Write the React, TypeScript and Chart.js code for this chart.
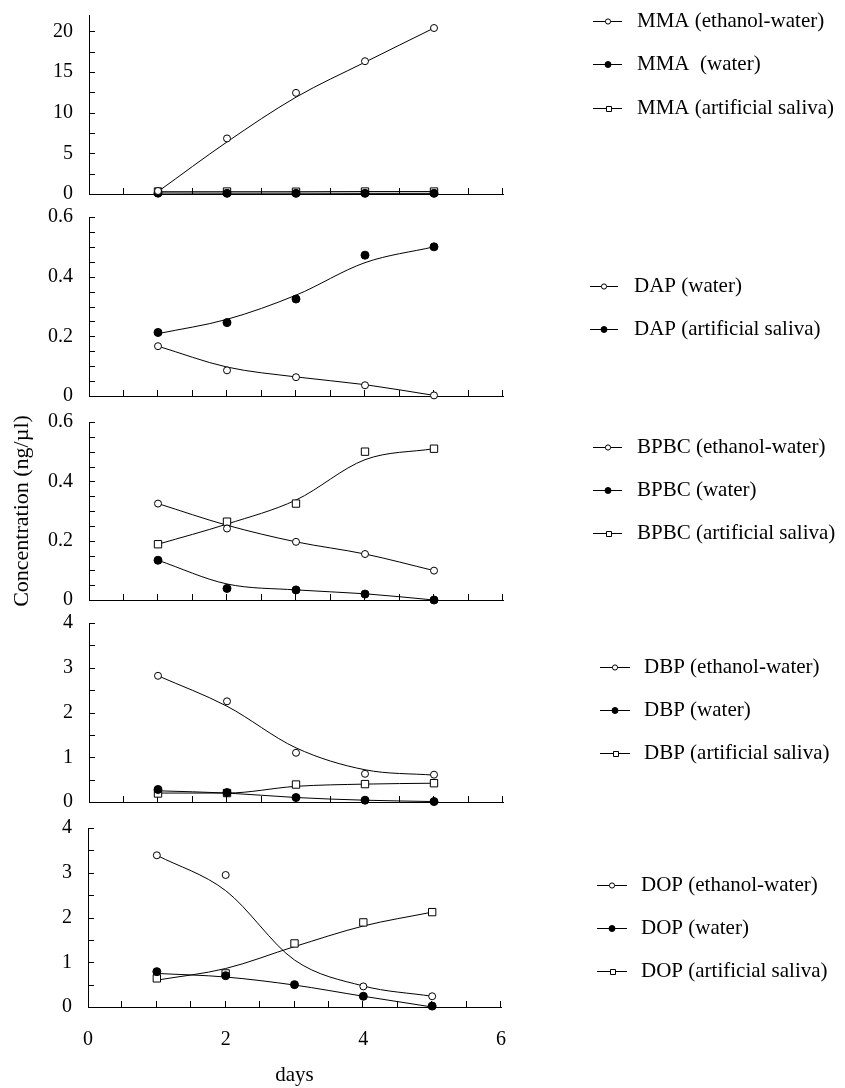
import React, { useEffect, useRef } from 'react';
import { Chart, registerables } from 'chart.js';

Chart.register(...registerables);
Chart.defaults.font.family = '"Liberation Serif", "Times New Roman", serif';
Chart.defaults.color = '#000';

// ---------- data ----------
const days = [1, 2, 3, 4, 5];
const xTickLabels = [0, 2, 4, 6];
const yLabelsMMA = [0, 5, 10, 15, 20];
const yLabelsSmall = [0, 0.2, 0.4, 0.6];
const yLabelsLarge = [0, 1, 2, 3, 4];

// MMA
const mmaEthanolWater = [0.37, 6.83, 12.43, 16.32, 20.4];
const mmaEthanolWaterFit = [0.3, 6.4, 11.9, 16.2, 20.4];
const mmaWater = [0.1, 0.08, 0.08, 0.08, 0.08];
const mmaWaterFit = [0.12, 0.1, 0.1, 0.08, 0.08];
const mmaSaliva = [0.3, 0.3, 0.28, 0.3, 0.3];
const mmaSalivaFit = [0.28, 0.28, 0.28, 0.3, 0.3];

// DAP
const dapWater = [0.167, 0.086, 0.063, 0.036, 0.002];
const dapWaterFit = [0.167, 0.097, 0.064, 0.038, 0.002];
const dapSaliva = [0.213, 0.246, 0.325, 0.472, 0.5];
const dapSalivaFit = [0.209, 0.257, 0.338, 0.447, 0.5];

// BPBC
const bpbcEthanolWater = [0.325, 0.241, 0.196, 0.155, 0.099];
const bpbcEthanolWaterFit = [0.325, 0.252, 0.196, 0.155, 0.099];
const bpbcWater = [0.134, 0.039, 0.034, 0.02, 0.0];
const bpbcWaterFit = [0.134, 0.054, 0.034, 0.021, 0.0];
const bpbcSaliva = [0.188, 0.264, 0.325, 0.5, 0.51];
const bpbcSalivaFit = [0.188, 0.256, 0.337, 0.473, 0.51];

// DBP
const dbpEthanolWater = [2.82, 2.25, 1.1, 0.63, 0.61];
const dbpEthanolWaterFit = [2.82, 2.14, 1.21, 0.72, 0.6];
const dbpWater = [0.28, 0.21, 0.1, 0.04, 0.01];
const dbpWaterFit = [0.25, 0.2, 0.1, 0.04, 0.01];
const dbpSaliva = [0.19, 0.2, 0.39, 0.4, 0.42];
const dbpSalivaFit = [0.2, 0.2, 0.35, 0.4, 0.42];

// DOP
const dopEthanolWater = [3.39, 2.95, null, 0.46, 0.24];
const dopEthanolWaterFit = [3.39, 2.6, 1.05, 0.47, 0.24];
const dopWater = [0.79, 0.7, 0.5, 0.24, 0.02];
const dopWaterFit = [0.75, 0.67, 0.49, 0.24, 0.0];
const dopSaliva = [0.64, 0.75, 1.42, 1.89, 2.12];
const dopSalivaFit = [0.6, 0.86, 1.35, 1.81, 2.12];

// ---------- config ----------
type Marker = 'open' | 'filled' | 'square';
interface Series { label: string; points: (number | null)[]; fit: number[]; marker: Marker; }
interface PanelCfg {
  series: Series[];
  yMax: number; yStep: number; yLabels: number[];
  top: number; bottom: number; left: number; right: number;
  legend: { lineX0: number; lineX1: number; markerX: number; textX: number; ys: number[] };
  yTitle?: string; showX?: boolean;
}

const PAGE_W = 845;
const PAGE_H = 1088;
const PAD_TOP = 14;

const panels: PanelCfg[] = [
  {
    series: [
      { label: 'MMA (ethanol-water)', points: mmaEthanolWater, fit: mmaEthanolWaterFit, marker: 'open' },
      { label: 'MMA  (water)', points: mmaWater, fit: mmaWaterFit, marker: 'filled' },
      { label: 'MMA (artificial saliva)', points: mmaSaliva, fit: mmaSalivaFit, marker: 'square' },
    ],
    yMax: 22, yStep: 2.5, yLabels: yLabelsMMA,
    top: 15, bottom: 194, left: 89, right: 503,
    legend: { lineX0: 593, lineX1: 622, markerX: 608, textX: 637, ys: [21, 64, 108] },
  },
  {
    series: [
      { label: 'DAP (water)', points: dapWater, fit: dapWaterFit, marker: 'open' },
      { label: 'DAP (artificial saliva)', points: dapSaliva, fit: dapSalivaFit, marker: 'filled' },
    ],
    yMax: 0.6, yStep: 0.05, yLabels: yLabelsSmall,
    top: 217, bottom: 396, left: 89, right: 503,
    legend: { lineX0: 590, lineX1: 618, markerX: 604, textX: 634, ys: [286, 329] },
  },
  {
    series: [
      { label: 'BPBC (ethanol-water)', points: bpbcEthanolWater, fit: bpbcEthanolWaterFit, marker: 'open' },
      { label: 'BPBC (water)', points: bpbcWater, fit: bpbcWaterFit, marker: 'filled' },
      { label: 'BPBC (artificial saliva)', points: bpbcSaliva, fit: bpbcSalivaFit, marker: 'square' },
    ],
    yMax: 0.6, yStep: 0.05, yLabels: yLabelsSmall,
    top: 422, bottom: 600, left: 89, right: 503,
    legend: { lineX0: 593, lineX1: 622, markerX: 608, textX: 637, ys: [447, 490, 533] },
    yTitle: 'Concentration (ng/µl)',
  },
  {
    series: [
      { label: 'DBP (ethanol-water)', points: dbpEthanolWater, fit: dbpEthanolWaterFit, marker: 'open' },
      { label: 'DBP (water)', points: dbpWater, fit: dbpWaterFit, marker: 'filled' },
      { label: 'DBP (artificial saliva)', points: dbpSaliva, fit: dbpSalivaFit, marker: 'square' },
    ],
    yMax: 4, yStep: 0.5, yLabels: yLabelsLarge,
    top: 623, bottom: 802, left: 89, right: 503,
    legend: { lineX0: 600, lineX1: 630, markerX: 615, textX: 644, ys: [667, 710, 753] },
  },
  {
    series: [
      { label: 'DOP (ethanol-water)', points: dopEthanolWater, fit: dopEthanolWaterFit, marker: 'open' },
      { label: 'DOP (water)', points: dopWater, fit: dopWaterFit, marker: 'filled' },
      { label: 'DOP (artificial saliva)', points: dopSaliva, fit: dopSalivaFit, marker: 'square' },
    ],
    yMax: 4, yStep: 0.5, yLabels: yLabelsLarge,
    top: 828, bottom: 1007, left: 88, right: 501,
    legend: { lineX0: 597, lineX1: 627, markerX: 612, textX: 641, ys: [885, 928, 971] },
    showX: true,
  },
];

const near = (a: number, b: number) => Math.abs(a - b) < 1e-6;

function markerStyle(m: Marker) {
  if (m === 'open') return { pointStyle: 'circle', pointRadius: 3.5, pointBackgroundColor: '#fff' };
  if (m === 'filled') return { pointStyle: 'circle', pointRadius: 4, pointBackgroundColor: '#000' };
  return { pointStyle: 'rect', pointRadius: 5.2, pointBackgroundColor: '#fff' };
}

function drawLegendMarker(ctx: CanvasRenderingContext2D, m: Marker, x: number, y: number) {
  ctx.beginPath();
  if (m === 'square') {
    ctx.rect(Math.round(x - 2.5) + 0.5, Math.round(y - 2.5) + 0.5, 5, 5);
    ctx.fillStyle = '#fff';
  } else {
    ctx.arc(x, y + 0.5, m === 'filled' ? 3 : 2.6, 0, Math.PI * 2);
    ctx.fillStyle = m === 'filled' ? '#000' : '#fff';
  }
  ctx.fill();
  ctx.stroke();
}

const zeroPadding = (s: any) => {
  s.paddingTop = 0;
  s.paddingBottom = 0;
  s.paddingLeft = 0;
  s.paddingRight = 0;
};

const innerTicksPlugin = {
  id: 'innerTicks',
  beforeDatasetsDraw(chart: any) {
    const { ctx, chartArea } = chart;
    const xs = chart.scales.x;
    const ys = chart.scales.y;
    ctx.save();
    ctx.strokeStyle = '#000';
    ctx.lineWidth = 1;
    ctx.beginPath();
    for (const t of xs.ticks) {
      if (t.value <= 0) continue;
      const px = Math.round(xs.getPixelForValue(t.value)) - 0.5;
      ctx.moveTo(px, chartArea.bottom);
      ctx.lineTo(px, chartArea.bottom - 6);
    }
    for (const t of ys.ticks) {
      if (t.value <= 0) continue;
      const py = Math.round(ys.getPixelForValue(t.value)) + 0.5;
      ctx.moveTo(chartArea.left, py);
      ctx.lineTo(chartArea.left + 6, py);
    }
    ctx.stroke();
    ctx.restore();
  },
};

function Panel({ cfg }: { cfg: PanelCfg }) {
  const ref = useRef<HTMLCanvasElement>(null);
  const canvasTop = cfg.top - PAD_TOP;
  const padBottom = cfg.showX ? PAGE_H - cfg.bottom : 8;
  const canvasH = PAD_TOP + (cfg.bottom - cfg.top) + padBottom;

  useEffect(() => {
    if (!ref.current) return;
    const datasets: any[] = [];
    cfg.series.forEach((s) => {
      datasets.push({
        label: s.label,
        data: days.map((d, i) => ({ x: d, y: s.points[i] })),
        showLine: false,
        borderColor: '#000',
        pointBorderColor: '#000',
        pointBorderWidth: 1,
        ...markerStyle(s.marker),
        clip: false,
        order: 0,
      });
    });
    cfg.series.forEach((s) => {
      datasets.push({
        label: s.label + ' fit',
        data: days.map((d, i) => ({ x: d, y: s.fit[i] })),
        showLine: true,
        borderColor: '#000',
        borderWidth: 1,
        pointRadius: 0,
        cubicInterpolationMode: 'monotone',
        clip: false,
        order: 1,
      });
    });

    const legendPlugin = {
      id: 'panelLegend',
      afterDraw(chart: any) {
        const ctx: CanvasRenderingContext2D = chart.ctx;
        const L = cfg.legend;
        ctx.save();
        ctx.strokeStyle = '#000';
        ctx.lineWidth = 1;
        ctx.font = '21px "Liberation Serif", "Times New Roman", serif';
        ctx.textBaseline = 'middle';
        ctx.textAlign = 'left';
        cfg.series.forEach((s, i) => {
          const y = L.ys[i] - canvasTop;
          ctx.beginPath();
          ctx.moveTo(L.lineX0, Math.round(y) + 0.5);
          ctx.lineTo(L.lineX1, Math.round(y) + 0.5);
          ctx.stroke();
          drawLegendMarker(ctx, s.marker, L.markerX, Math.round(y));
          ctx.fillStyle = '#000';
          ctx.fillText(s.label, L.textX, y);
        });
        ctx.restore();
      },
    };

    const chart = new Chart(ref.current, {
      type: 'scatter',
      data: { datasets },
      options: {
        animation: false,
        responsive: false,
        devicePixelRatio: 1,
        events: [],
        layout: { padding: { top: PAD_TOP, left: 0, right: PAGE_W - cfg.right, bottom: 0 } },
        plugins: { legend: { display: false }, tooltip: { enabled: false } },
        scales: {
          x: {
            type: 'linear',
            min: 0,
            max: 6,
            grid: { display: false, drawTicks: false },
            border: { display: true, color: '#000', width: 1 },
            ticks: {
              display: !!cfg.showX,
              stepSize: 0.5,
              autoSkip: false,
              maxRotation: 0,
              padding: 21,
              font: { size: 20 },
              color: '#000',
              callback: (v: any) => (xTickLabels.some((l) => near(l, Number(v))) ? String(Number(v)) : ''),
            },
            title: {
              display: !!cfg.showX,
              text: 'days',
              font: { size: 21 },
              color: '#000',
              padding: { top: 0, bottom: 0 },
            },
            afterFit: (s: any) => { s.height = padBottom; zeroPadding(s); },
          },
          y: {
            type: 'linear',
            min: 0,
            max: cfg.yMax,
            grid: { display: false, drawTicks: false },
            border: { display: true, color: '#000', width: 1 },
            ticks: {
              stepSize: cfg.yStep,
              includeBounds: false,
              autoSkip: false,
              padding: 16,
              font: { size: 20 },
              color: '#000',
              callback: (v: any) => {
                const n = Number(v);
                return cfg.yLabels.some((l) => near(l, n)) ? String(Number(n.toFixed(2))) : '';
              },
            },
            title: {
              display: !!cfg.yTitle,
              text: cfg.yTitle || '',
              font: { size: 22 },
              color: '#000',
              padding: { top: 9, bottom: 0 },
            },
            afterFit: (s: any) => { s.width = cfg.left; zeroPadding(s); },
          },
        },
      } as any,
      plugins: [innerTicksPlugin, legendPlugin],
    });
    return () => chart.destroy();
  }, []);

  return (
    <canvas
      ref={ref}
      width={PAGE_W}
      height={canvasH}
      style={{ position: 'absolute', left: 0, top: canvasTop, width: PAGE_W, height: canvasH, display: 'block' }}
    />
  );
}

export default function App() {
  return (
    <div style={{ position: 'absolute', left: 0, top: 0, width: PAGE_W, height: PAGE_H, background: '#fff', overflow: 'hidden' }}>
      {panels.map((p, i) => (
        <Panel key={i} cfg={p} />
      ))}
    </div>
  );
}
